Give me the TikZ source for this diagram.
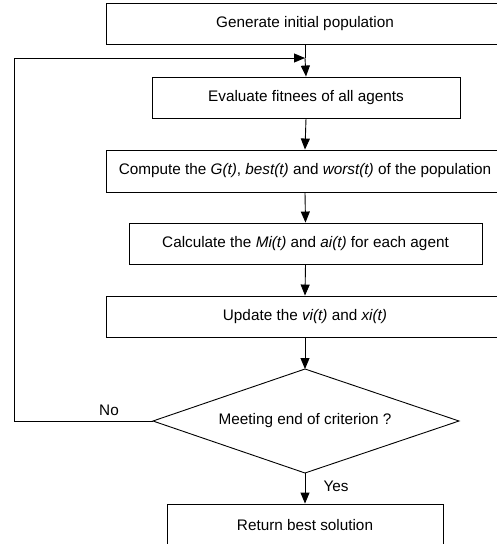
\documentclass[tikz,border=0pt]{standalone}
\usepackage{fontspec}
\setmainfont{Liberation Sans}
\usetikzlibrary{arrows.meta}
\begin{document}
\begin{tikzpicture}[x=1pt,y=-1pt,
  box/.style={draw,line width=0.9pt,rectangle,inner sep=0pt,font=\fontsize{15.3}{18}\selectfont},
  lbl/.style={inner sep=0pt,font=\fontsize{15.3}{18}\selectfont},
  arr/.style={line width=0.9pt,-{Triangle[length=11pt,width=9pt]}},
  ln/.style={line width=0.9pt}]
\useasboundingbox (0,0) rectangle (497,544);
\node[box,minimum width=398pt,minimum height=41pt] (b1) at (305,23.5) {Generate initial population};
\node[box,minimum width=308pt,minimum height=41pt] (b2) at (306,97.5) {Evaluate fitnees of all agents};
\node[box,minimum width=398pt,minimum height=42pt] (b3) at (305,171) {Compute the \textit{G(t)}, \textit{best(t)} and \textit{worst(t)} of the population};
\node[box,minimum width=353pt,minimum height=41pt] (b4) at (305.5,243.5) {Calculate the \textit{Mi(t)} and \textit{ai(t)} for each agent};
\node[box,minimum width=398pt,minimum height=41pt] (b5) at (305,316.5) {Update the \textit{vi(t)} and \textit{xi(t)}};
\coordinate (dn) at (305,369);
\coordinate (dw) at (153,421);
\coordinate (de) at (459,421);
\coordinate (ds) at (305,473);
\draw[ln] (dn) -- (de) -- (ds) -- (dw) -- cycle;
\node[lbl] (dt) at (305,421) {Meeting end of criterion ?};
\node[box,minimum width=276pt,minimum height=42pt] (b6) at (305,525) {Return best solution};
\node[lbl] (no) at (109,410) {No};
\node[lbl] (yes) at (336,486) {Yes};
\coordinate (j) at (305,58);
\coordinate (fb) at (14,421);
\draw[ln] (b1.south) -- (j);
\draw[arr] (j) -- (b2.north);
\draw[arr] (b2.south) -- (b3.north);
\draw[arr] (b3.south) -- (b4.north);
\draw[arr] (b4.south) -- (b5.north);
\draw[arr] (b5.south) -- (dn);
\draw[arr] (ds) -- (b6.north);
\draw[arr] (dw) -- (fb) |- (j);
\end{tikzpicture}
\end{document}
